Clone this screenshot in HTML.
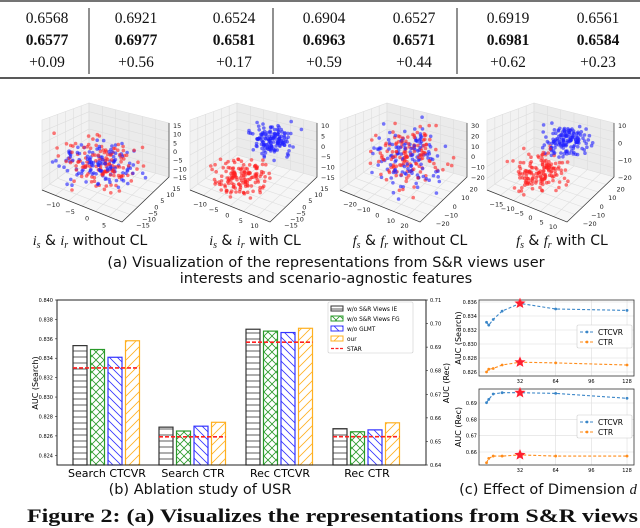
<!DOCTYPE html>
<html><head><meta charset="utf-8"><style>
body{margin:0;background:#fff;width:640px;height:528px;overflow:hidden}
svg{display:block}
.serif{font-family:"Liberation Serif",serif}
.sans{font-family:"DejaVu Sans","Liberation Sans",sans-serif}
</style></head><body>
<svg id="fig" width="640" height="528" viewBox="0 0 640 528" xmlns="http://www.w3.org/2000/svg">
<defs>
<pattern id="pH" width="14" height="6" patternUnits="userSpaceOnUse"><rect width="14" height="6" fill="#fff"/><line x1="0" y1="3" x2="14" y2="3" stroke="#333" stroke-width="0.8"/></pattern>
<pattern id="pX" width="8" height="8" patternUnits="userSpaceOnUse"><rect width="8" height="8" fill="#fff"/><path d="M0 0L8 8M8 0L0 8" stroke="#2a9a2a" stroke-width="0.8"/></pattern>
<pattern id="pB" width="8" height="8" patternUnits="userSpaceOnUse"><rect width="8" height="8" fill="#fff"/><path d="M0 0L8 8M-4 4L4 12M4 -4L12 4" stroke="#3333ff" stroke-width="0.8"/></pattern>
<pattern id="pF" width="9" height="9" patternUnits="userSpaceOnUse"><rect width="9" height="9" fill="#fff"/><path d="M0 9L9 0M-4.5 4.5L4.5 -4.5M4.5 13.5L13.5 4.5" stroke="#ffb020" stroke-width="0.8"/></pattern>
</defs>
<g id="table" class="serif" font-size="15.5" text-anchor="middle" fill="#111">
<line x1="0" y1="1" x2="640" y2="1" stroke="#222" stroke-width="1.2"/>
<line x1="0" y1="78" x2="640" y2="78" stroke="#222" stroke-width="1.6"/>
<line x1="89" y1="8" x2="89" y2="74" stroke="#222"/>
<line x1="273" y1="8" x2="273" y2="74" stroke="#222"/>
<line x1="457" y1="8" x2="457" y2="74" stroke="#222"/>
</g>
<g id="scatter3d"></g>
<g class="sans" font-size="14.5" fill="#111" text-anchor="middle">
<text x="326" y="267">(a) Visualization of the representations from S&amp;R views user</text>
<text x="326" y="283">interests and scenario-agnostic features</text>
<text x="200" y="494">(b) Ablation study of USR</text>
<text x="548" y="494">(c) Effect of Dimension <tspan font-family="Liberation Serif" font-style="italic">d</tspan></text>
</g>
<text x="27" y="522" textLength="611" lengthAdjust="spacingAndGlyphs" class="serif" font-weight="bold" font-size="19" fill="#111">Figure 2: (a) Visualizes the representations from S&amp;R views</text>
<g id="bars"></g>
<g id="lines"></g>
</svg>
<script>
// ---------- table data ----------
const tableRow1 = ["0.6568","0.6921","0.6524","0.6904","0.6527","0.6919","0.6561"];
const tableRow2 = ["0.6577","0.6977","0.6581","0.6963","0.6571","0.6981","0.6584"];
const tableRow3 = ["+0.09","+0.56","+0.17","+0.59","+0.44","+0.62","+0.23"];
// ---------- bar chart data ----------
const barCategories = ["Search CTCVR","Search CTR","Rec CTCVR","Rec CTR"];
const barAxis = ["left","left","right","right"];
const seriesNames = ["w/o S&R Views IE","w/o S&R Views FG","w/o GLMT","our"];
const seriesIE = [0.8353,0.8269,0.6976,0.6554];
const seriesFG = [0.8349,0.8265,0.6968,0.6541];
const seriesGLMT = [0.8341,0.8270,0.6962,0.6549];
const seriesOur = [0.8358,0.8274,0.6980,0.6579];
const starValues = [0.8330,0.8259,0.6921,0.6520];
const leftTicks = [0.824,0.826,0.828,0.830,0.832,0.834,0.836,0.838,0.840];
const rightTicks = [0.64,0.65,0.66,0.67,0.68,0.69,0.70,0.71];
// ---------- line chart data ----------
const dims = [2,4,8,16,32,64,128];
const dimTicks = [32,64,96,128];
const searchCTCVR = [0.8331,0.8327,0.8335,0.8347,0.8358,0.8350,0.8348];
const searchCTR = [0.8260,0.8264,0.8265,0.8270,0.8274,0.8273,0.8270];
const recCTCVR = [0.6902,0.6922,0.6955,0.6963,0.6963,0.6959,0.6929];
const recCTR = [0.6534,0.6561,0.6575,0.6575,0.6582,0.6575,0.6575];
const searchTicks = [0.826,0.828,0.830,0.832,0.834,0.836];
const recTicks = [0.66,0.67,0.68,0.69];

const NS="http://www.w3.org/2000/svg";
function mk(tag,attrs,parent){const e=document.createElementNS(NS,tag);for(const k in attrs)e.setAttribute(k,attrs[k]);parent.appendChild(e);return e;}
function txt(parent,x,y,s,attrs){const t=mk('text',Object.assign({x:x,y:y},attrs||{}),parent);t.textContent=s;return t;}

// table
(function(){
 const g=document.getElementById('table');
 const xs=[47,136,234,324,414,508,598];
 [[tableRow1,23,'normal'],[tableRow2,45,'bold'],[tableRow3,67,'normal']].forEach(([row,y,w])=>{
  row.forEach((v,i)=>{const t=txt(g,xs[i],y,v,{'font-weight':w});
   
   });
 });
})();

// scatter 3D panels (decorative embeddings)
(function(){
 const g=document.getElementById('scatter3d');
 let seed=7;function rnd(){seed=(seed*16807)%2147483647;return seed/2147483647;}
 function gauss(){return (rnd()+rnd()+rnd()-1.5)*1.15;}
 const panels=[
  {ox:42,lab:"without CL",v:"i",mix:true,cx:100,cy:163,rx:32,ry:20,zt:["15","10","5","0","−5","−10","−15"],xt:["−10","−5","0","5"],yt:["15","10","5","0","−5","−10","−15"]},
  {ox:190,lab:"with CL",v:"i",mix:false,b:[273,140,18,14],r:[240,177,22,15],zt:["10","5","0","−5","−10","−15"],xt:["−10","−5","0","5","10"],yt:["15","10","5","0","−5","−10","−15"]},
  {ox:340,lab:"without CL",v:"f",mix:true,cx:407,cy:157,rx:30,ry:27,zt:["30","20","10","0","−10","−20"],xt:["−20","−10","0","10","20"],yt:["20","10","0","−10","−20"]},
  {ox:487,lab:"with CL",v:"f",mix:false,b:[567,140,19,13],r:[540,173,22,17],zt:["10","0","−10","−20"],xt:["−15","−10","−5","0","5","10"],yt:["20","10","0","−10","−20"]}
 ];
 const labX=[90,255,410,562];
 panels.forEach((p,pi)=>{
  const pg=mk('g',{},g);
  
  
  const o=p.ox;
  const BT=[o+47,103], L1=[o,120], L2=[o,190], BB=[o+47,155], F=[o+80,222], R1=[o+127,123], R2=[o+127,177];
  const P=a=>a[0]+','+a[1];
  mk('polygon',{points:[L1,BT,BB,L2].map(P).join(' '),fill:'#f2f2f2',stroke:'#ddd','stroke-width':0.6},pg);
  mk('polygon',{points:[BT,R1,R2,BB].map(P).join(' '),fill:'#ebebeb',stroke:'#ddd','stroke-width':0.6},pg);
  mk('polygon',{points:[L2,BB,R2,F].map(P).join(' '),fill:'#f6f6f6',stroke:'#ddd','stroke-width':0.6},pg);
  const lerp=(a,b,f)=>[a[0]+(b[0]-a[0])*f,a[1]+(b[1]-a[1])*f];
  for(let k=1;k<6;k++){const f=k/6;
   let a=lerp(L1,L2,f),b=lerp(BT,BB,f),c=lerp(R1,R2,f);
   mk('polyline',{points:[a,b,c].map(P).join(' '),fill:'none',stroke:'#ddd','stroke-width':0.6},pg);
   a=lerp(L1,BT,f);b=lerp(L2,BB,f);
   mk('line',{x1:a[0],y1:a[1],x2:b[0],y2:b[1],stroke:'#ddd','stroke-width':0.6},pg);
   a=lerp(BT,R1,f);b=lerp(BB,R2,f);
   mk('line',{x1:a[0],y1:a[1],x2:b[0],y2:b[1],stroke:'#ddd','stroke-width':0.6},pg);
   a=lerp(L2,F,f);b=lerp(BB,R2,f);
   mk('line',{x1:a[0],y1:a[1],x2:b[0],y2:b[1],stroke:'#ddd','stroke-width':0.6},pg);
   a=lerp(L2,BB,f);b=lerp(F,R2,f);
   mk('line',{x1:a[0],y1:a[1],x2:b[0],y2:b[1],stroke:'#ddd','stroke-width':0.6},pg);
  }
  mk('polyline',{points:[L2,F,R2,R1].map(P).join(' '),fill:'none',stroke:'#333','stroke-width':0.7},pg);
  p.zt.forEach((t,i)=>txt(pg,o+131,128+i*52/(p.zt.length-1),t,{'font-size':6.5,'font-family':'DejaVu Sans',fill:'#222'}));
  p.xt.forEach((t,i)=>{const q=lerp([o+6,205],[o+74,232],(i+0.3)/p.xt.length);txt(pg,q[0],q[1],t,{'font-size':6.5,'font-family':'DejaVu Sans',fill:'#222','text-anchor':'middle'});});
  p.yt.forEach((t,i)=>{const q=lerp([o+132,189],[o+90,232],(i+0.3)/p.yt.length);txt(pg,q[0],q[1],t,{'font-size':6.5,'font-family':'DejaVu Sans',fill:'#222'});});
  const pts=[];
  if(p.mix){for(let k=0;k<260;k++){pts.push([p.cx+gauss()*p.rx,p.cy+gauss()*p.ry,k%2?'#ff2020':'#2020ff']);}}
  else{for(let k=0;k<150;k++){pts.push([p.b[0]+gauss()*p.b[2],p.b[1]+gauss()*p.b[3],'#2020ff']);pts.push([p.r[0]+gauss()*p.r[2],p.r[1]+gauss()*p.r[3],'#ff2020']);}}
  pts.forEach(q=>mk('circle',{cx:q[0].toFixed(1),cy:q[1].toFixed(1),r:1.8,fill:q[2],'fill-opacity':0.6},pg));
  const l=txt(pg,labX[pi],245,'',{'font-size':14,'font-family':'DejaVu Sans','text-anchor':'middle',fill:'#111'});
  
  
  const v=p.v;
  l.innerHTML=`<tspan font-family="Liberation Serif" font-style="italic">${v}</tspan><tspan font-family="Liberation Serif" font-style="italic" font-size="10" dy="3">s</tspan><tspan dy="-3"> &amp; </tspan><tspan font-family="Liberation Serif" font-style="italic">${v}</tspan><tspan font-family="Liberation Serif" font-style="italic" font-size="10" dy="3">r</tspan><tspan dy="-3"> ${p.lab}</tspan>`;
 });
})();

// bar chart
(function(){
 const g=document.getElementById('bars');
 const X0=57,X1=426,Y0=300,Y1=465;
 const yL=v=>Y0+(0.840-v)/(0.840-0.8230)*(Y1-Y0);
 const yR=v=>Y0+(0.71-v)/(0.71-0.64)*(Y1-Y0);
 const centers=[107,193,280,367];
 const xBar=(c,s)=>centers[c]-34+s*17.5;
 const fills=['url(#pH)','url(#pX)','url(#pB)','url(#pF)'];
 const strokes=['#333','#2a9a2a','#3333ff','#ffb020'];
 const series=[seriesIE,seriesFG,seriesGLMT,seriesOur];
 series.forEach((sv,s)=>sv.forEach((v,c)=>{
  const ys=barAxis[c]==='left'?yL(v):yR(v);
  const r=mk('rect',{x:xBar(c,s),y:ys,width:14,height:Y1-ys,fill:fills[s],stroke:strokes[s],'stroke-width':1.2},g);
  
  
 }));
 starValues.forEach((v,c)=>{
  const ys=barAxis[c]==='left'?yL(v):yR(v);
  const l=mk('line',{x1:xBar(c,0),x2:xBar(c,3)+14,y1:ys,y2:ys,stroke:'#ff2020','stroke-width':1.6,'stroke-dasharray':'4,2'},g);
  
  
 });
 mk('rect',{x:X0,y:Y0,width:X1-X0,height:Y1-Y0,fill:'none',stroke:'#222','stroke-width':1},g);
 leftTicks.forEach(t=>{mk('line',{x1:X0-2,x2:X0,y1:yL(t),y2:yL(t),stroke:'#222','stroke-width':0.6},g);
  const e=txt(g,X0-4,yL(t)+2,t.toFixed(3),{'font-size':5,'font-family':'DejaVu Sans','text-anchor':'end'});
  
  });
 rightTicks.forEach(t=>{mk('line',{x1:X1,x2:X1+2,y1:yR(t),y2:yR(t),stroke:'#222','stroke-width':0.6},g);
  const e=txt(g,X1+4,yR(t)+2,t.toFixed(2),{'font-size':5,'font-family':'DejaVu Sans'});
  
  });
 barCategories.forEach((c,i)=>{const e=txt(g,centers[i],477,c,{'font-size':11,'font-family':'DejaVu Sans','text-anchor':'middle'});
  
  });
 const yl=txt(g,0,0,'AUC (Search)',{'font-size':8,'font-family':'DejaVu Sans','text-anchor':'middle',transform:'translate(38,383) rotate(-90)'});
 
 
 const yr=txt(g,0,0,'AUC (Rec)',{'font-size':8,'font-family':'DejaVu Sans','text-anchor':'middle',transform:'translate(449,383) rotate(-90)'});
 
 
 const lg=mk('g',{},g);
 
 
 mk('rect',{x:328,y:302,width:85,height:51,fill:'#fff','fill-opacity':0.9,stroke:'#ccc','stroke-width':0.6,rx:1.5},lg);
 seriesNames.concat(['STAR']).forEach((n,i)=>{
  const y=306+i*10;
  if(i<4) mk('rect',{x:331,y:y,width:12,height:5,fill:fills[i],stroke:strokes[i],'stroke-width':1},lg);
  else mk('line',{x1:331,x2:343,y1:y+2.5,y2:y+2.5,stroke:'#ff2020','stroke-width':1.3,'stroke-dasharray':'3,1.5'},lg);
  const e=txt(lg,347,y+5,n,{'font-size':5.8,'font-family':'DejaVu Sans'});
  
  
 });
})();

// line charts
(function(){
 const g=document.getElementById('lines');
 const X0=479,X1=634;
 const xs=d=>484.3+d*1.115;
 function star(cx,cy,r,par){let p='';for(let i=0;i<10;i++){const a=-Math.PI/2+i*Math.PI/5,rr=i%2?r*0.45:r;p+=(cx+rr*Math.cos(a)).toFixed(1)+','+(cy+rr*Math.sin(a)).toFixed(1)+' ';}return mk('polygon',{points:p,fill:'#ff2030',stroke:'#ff2030'},par);}
 function panel(name,Y0,Y1,ys,ticks,fmt,s1,s2,title,legY){
  const pg=mk('g',{},g);
  
  
  dimTicks.forEach(d=>{mk('line',{x1:xs(d),x2:xs(d),y1:Y0,y2:Y1,stroke:'#ddd','stroke-width':0.6},pg);
   const e=txt(pg,xs(d),Y1+7,String(d),{'font-size':5,'font-family':'DejaVu Sans','text-anchor':'middle'});
   
   });
  ticks.forEach(t=>{mk('line',{x1:X0,x2:X1,y1:ys(t),y2:ys(t),stroke:'#ddd','stroke-width':0.6},pg);
   const e=txt(pg,X0-2,ys(t)+2,t.toFixed(fmt),{'font-size':5,'font-family':'DejaVu Sans','text-anchor':'end'});
   
   });
  mk('rect',{x:X0,y:Y0,width:X1-X0,height:Y1-Y0,fill:'none',stroke:'#333','stroke-width':0.8},pg);
  [[s1,'#3a86c8','ctcvr'],[s2,'#ff8c1a','ctr']].forEach(([s,c,n])=>{
   const pl=mk('polyline',{points:s.map((v,i)=>xs(dims[i]).toFixed(1)+','+ys(v).toFixed(1)).join(' '),fill:'none',stroke:c,'stroke-width':1.1,'stroke-dasharray':'3,2'},pg);
   
   
   s.forEach((v,i)=>{if(dims[i]===32){star(xs(32),ys(v),4.5,pg);}else{const m=mk('circle',{cx:xs(dims[i]),cy:ys(v),r:1.4,fill:c},pg);
    
    }});
  });
  const yt=txt(pg,0,0,title,{'font-size':8,'font-family':'DejaVu Sans','text-anchor':'middle',transform:`translate(461,${(Y0+Y1)/2}) rotate(-90)`});
  
  
  const lg=mk('g',{},pg);
  
  
  mk('rect',{x:577,y:legY,width:55,height:23,fill:'#fff','fill-opacity':0.9,stroke:'#ccc','stroke-width':0.6,rx:1.5},lg);
  [['CTCVR','#3a86c8'],['CTR','#ff8c1a']].forEach(([n,c],i)=>{const y=legY+7+i*10;
   mk('line',{x1:580,x2:594,y1:y,y2:y,stroke:c,'stroke-width':1.1,'stroke-dasharray':'3,2'},lg);
   mk('circle',{cx:587,cy:y,r:1.4,fill:c},lg);
   const e=txt(lg,598,y+3,n,{'font-size':7.5,'font-family':'DejaVu Sans'});
   
   });
 }
 panel('search-auc-chart',300,376,v=>302+(0.836-v)*7000,searchTicks,3,searchCTCVR,searchCTR,'AUC (Search)',325);
 panel('rec-auc-chart',389,465,v=>403+(0.69-v)*1633,recTicks,2,recCTCVR,recCTR,'AUC (Rec)',415);
})();
</script>
</body></html>
